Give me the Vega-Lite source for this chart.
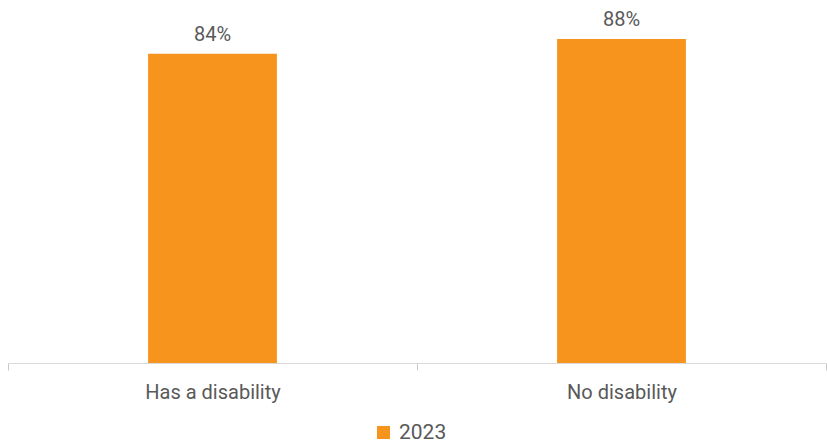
{
  "$schema": "https://vega.github.io/schema/vega-lite/v6.json",
  "width": 818,
  "height": 363,
  "autosize": {"type": "none"},
  "padding": {"left": 8, "top": 0, "right": 1, "bottom": 82},
  "background": "white",
  "config": {
    "view": {"stroke": null},
    "font": "Roboto"
  },
  "data": {
    "values": [
      {"category": "Has a disability", "value": 0.84, "year": "2023"},
      {"category": "No disability", "value": 0.88, "year": "2023"}
    ]
  },
  "encoding": {
    "x": {
      "field": "category",
      "type": "nominal",
      "sort": null,
      "scale": {"paddingInner": 0, "paddingOuter": 0},
      "axis": {
        "title": null,
        "labelAngle": 0,
        "ticks": true,
        "tickBand": "extent",
        "tickOpacity": 1,
        "tickWidth": 1,
        "domainColor": "#d9d9d9",
        "tickColor": "#c8c8c8",
        "tickSize": 7,
        "labelFontSize": 20,
        "labelColor": "#595959",
        "labelPadding": 12
      }
    },
    "y": {
      "field": "value",
      "type": "quantitative",
      "scale": {"domain": [0, 0.986], "nice": false},
      "axis": null
    }
  },
  "layer": [
    {
      "mark": {"type": "bar", "width": {"band": 0.315}},
      "encoding": {
        "color": {
          "field": "year",
          "type": "nominal",
          "scale": {"range": ["#F7941D"]},
          "legend": {
            "title": null,
            "orient": "none",
            "legendX": 365,
            "legendY": 422,
            "padding": 0,
            "direction": "horizontal",
            "symbolType": "square",
            "symbolSize": 169,
            "symbolStrokeWidth": 0,
            "labelFontSize": 21,
            "labelColor": "#595959",
            "labelOffset": 5
          }
        }
      }
    },
    {
      "mark": {"type": "text", "baseline": "bottom", "dy": -9, "fontSize": 20, "color": "#595959"},
      "encoding": {
        "text": {"field": "value", "type": "quantitative", "format": ".0%"}
      }
    }
  ]
}
